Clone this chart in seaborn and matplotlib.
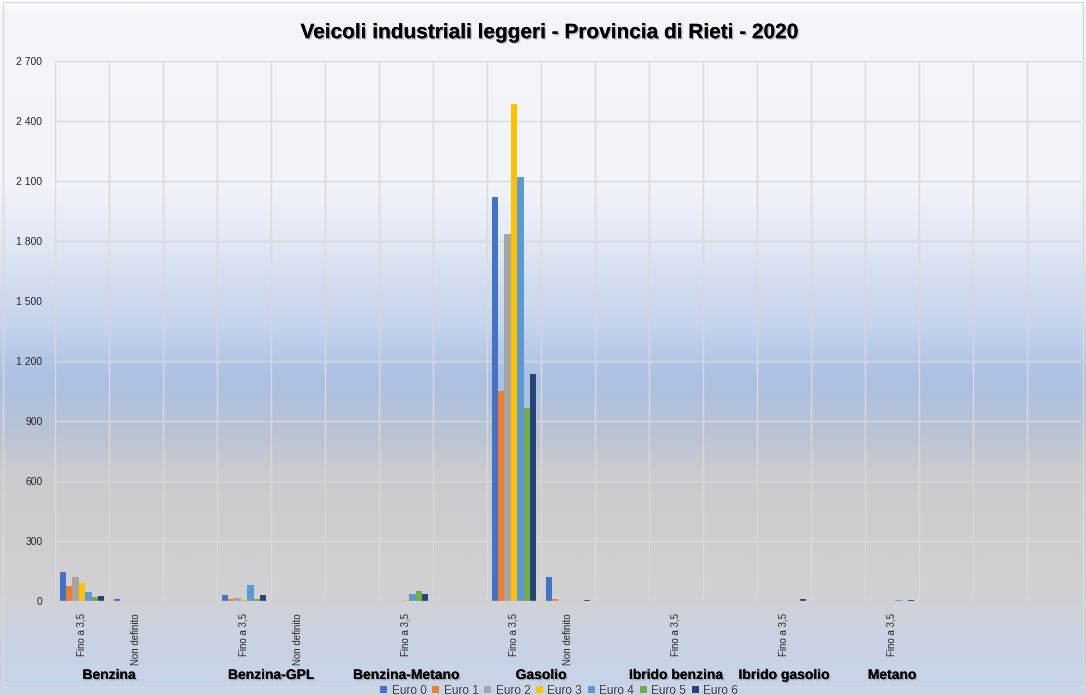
import numpy as np
import pandas as pd
import matplotlib
matplotlib.use("Agg")
import matplotlib.pyplot as plt
import matplotlib.patheffects as pe
from matplotlib.colors import LinearSegmentedColormap
from matplotlib.ticker import FuncFormatter
import seaborn as sns

plt.rcParams["font.family"] = ["Liberation Sans", "DejaVu Sans"]

# Data
groups = ["Benzina", "Benzina", "Benzina-GPL", "Benzina-GPL", "Benzina-Metano",
          "Gasolio", "Gasolio", "Ibrido benzina", "Ibrido gasolio", "Metano"]
subs = ["Fino a 3,5", "Non definito", "Fino a 3,5", "Non definito", "Fino a 3,5",
        "Fino a 3,5", "Non definito", "Fino a 3,5", "Fino a 3,5", "Fino a 3,5"]
euro_classes = ["Euro 0", "Euro 1", "Euro 2", "Euro 3", "Euro 4", "Euro 5", "Euro 6"]
euro_0 = [147, 8, 30, 2, 0, 2020, 120, 0, 0, 0]
euro_1 = [77, 1, 10, 0, 1, 1050, 8, 0, 0, 0]
euro_2 = [122, 1, 13, 0, 1, 1835, 1, 0, 0, 0]
euro_3 = [88, 0, 5, 0, 3, 2485, 1, 0, 0, 0]
euro_4 = [43, 0, 80, 0, 35, 2120, 2, 0, 0, 4]
euro_5 = [18, 0, 10, 0, 50, 965, 2, 0, 1, 1]
euro_6 = [25, 0, 30, 0, 35, 1135, 3, 1, 8, 5]
y_ticks = [0, 300, 600, 900, 1200, 1500, 1800, 2100, 2400, 2700]

palette = ["#4472C4", "#ED7D31", "#A5A5A5", "#FFC000", "#5B9BD5", "#70AD47", "#264478"]

# Excel-like layout: one empty slot after each fuel group, plus two trailing slots
slot_keys, slot_ticks, group_pos = [], [], {}
for i, (g, s) in enumerate(zip(groups, subs)):
    if i > 0 and groups[i - 1] != g:
        slot_keys.append(f"blank{len(slot_keys)}")
        slot_ticks.append("")
    group_pos.setdefault(g, []).append(len(slot_keys))
    slot_keys.append(f"{g}|{s}")
    slot_ticks.append(s)
for _ in range(3):
    slot_keys.append(f"blank{len(slot_keys)}")
    slot_ticks.append("")

series = [euro_0, euro_1, euro_2, euro_3, euro_4, euro_5, euro_6]
rows = []
for euro, vals in zip(euro_classes, series):
    for g, s, v in zip(groups, subs, vals):
        rows.append({"slot": f"{g}|{s}", "euro": euro, "value": v})
df = pd.DataFrame(rows)

W, H = 1086, 695
fig = plt.figure(figsize=(W / 100, H / 100), dpi=100)

# gradient background
bg = fig.add_axes([0, 0, 1, 1], zorder=-10)
stops = [(0.0, "#ffffff"), (0.012, "#f5f6fa"), (0.26, "#f2f4fa"), (0.33, "#e5eaf5"),
         (0.47, "#c5d3ec"), (0.545, "#abc0e3"), (0.62, "#b9c3d5"), (0.68, "#cbcbcf"),
         (0.86, "#d1d1d3"), (0.92, "#cad2e2"), (1.0, "#c6d4ea")]
cmap = LinearSegmentedColormap.from_list("bg", stops)
bg.imshow(np.linspace(0, 1, 400).reshape(-1, 1), aspect="auto", cmap=cmap,
          extent=[0, 1, 1, 0])
bg.set_xlim(0, 1)
bg.set_ylim(1, 0)
bg.axis("off")
bg.add_patch(plt.Rectangle((0.003, 0.003), 0.994, 0.985, fill=False,
                           edgecolor="#d9d9d9", linewidth=1))

ax = fig.add_axes([55 / W, (H - 601) / H, (1081 - 55) / W, (601 - 61) / H])
ax.patch.set_alpha(0)

sns.barplot(data=df, x="slot", y="value", hue="euro", order=slot_keys,
            hue_order=euro_classes, palette=palette, width=0.83, gap=0,
            linewidth=0, saturation=1, errorbar=None, ax=ax, zorder=3, legend=True)

ax.set_xlim(-0.5, len(slot_keys) - 0.5)
ax.set_ylim(0, 2700)
for y in y_ticks:
    ax.axhline(y, color="#d9d9d9", linewidth=1, zorder=1)
for x in np.arange(-0.5, len(slot_keys), 1.0):
    ax.axvline(x, color="#d9d9d9", linewidth=1, zorder=1)
for sp in ax.spines.values():
    sp.set_visible(False)
ax.axhline(0, color="#bfbfbf", linewidth=1, zorder=4)

ax.set_yticks(y_ticks)
ax.yaxis.set_major_formatter(FuncFormatter(lambda v, p: f"{v:,.0f}".replace(",", " ")))
ax.tick_params(axis="y", length=0, labelsize=7.5, pad=9, colors="#262626")
ax.set_xticks(range(len(slot_keys)))
ax.set_xticklabels(slot_ticks, rotation=90, fontsize=7, color="#262626",
                   va="top", ha="center")
ax.tick_params(axis="x", length=0, pad=9)
ax.set_xlabel("")
ax.set_ylabel("")

shadow = [pe.withSimplePatchShadow(offset=(1, -1), shadow_rgbFace="#808080", alpha=0.5),
          pe.Normal()]
for g, idx in group_pos.items():
    ax.text(np.mean(idx), -0.137, g, transform=ax.get_xaxis_transform(),
            ha="center", va="center", fontsize=10, fontweight="bold",
            color="black", path_effects=shadow)

fig.text(0.507, 0.953, "Veicoli industriali leggeri - Provincia di Rieti - 2020",
         ha="center", va="center", fontsize=15, fontweight="bold",
         path_effects=shadow)

handles, labels = ax.get_legend_handles_labels()
ax.get_legend().remove()
fig.legend(handles, labels, loc="center", bbox_to_anchor=(0.515, 0.006), ncol=7,
           frameon=False, fontsize=8.5, handlelength=0.6, handleheight=0.6,
           handletextpad=0.35, columnspacing=0.5, labelcolor="#404040")

fig.savefig("out.png", dpi=100)
